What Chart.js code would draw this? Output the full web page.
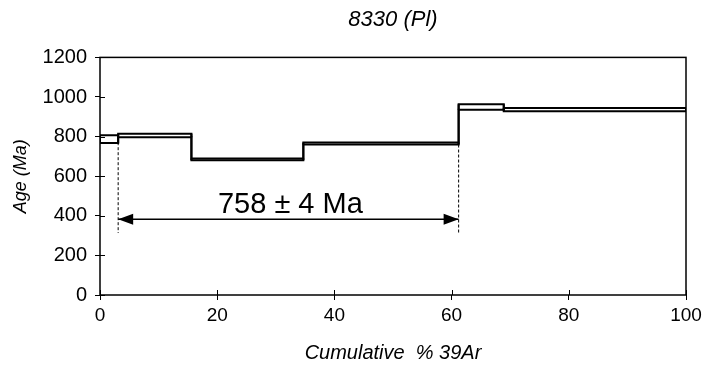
<!DOCTYPE html>
<html>
<head>
<meta charset="utf-8">
<script src="https://cdn.jsdelivr.net/npm/chart.js@4"></script>
<style>
  html, body { margin: 0; padding: 0; background: #fff; }
  #wrap { width: 708px; height: 365px; }
</style>
</head>
<body>
<div id="wrap"><canvas id="myChart" width="708" height="365"></canvas></div>
<script>
// age spectrum steps (cumulative % 39Ar vs age, Ma)
const stepStart = [0, 3.1, 15.6, 34.7, 61.2, 68.9]
const stepEnd = [3.1, 15.6, 34.7, 61.2, 68.9, 100]
const ageHigh = [807, 815, 690, 770, 963, 945]
const ageLow = [768, 797, 680, 760, 935, 928]

// plateau
const plateauFrom = 3.1
const plateauTo = 61.2
const plateauArrowAge = 383
const plateauDashBottom = 313
const plateauLabel = '758 ± 4 Ma'

const xTicks = [0, 20, 40, 60, 80, 100]
const yTicks = [0, 200, 400, 600, 800, 1000, 1200]

const FONT = "'Liberation Sans', Arial, sans-serif"

const last = stepStart.length - 1
// upper envelope (closed at both ends), lower envelope
let upper = [{ x: stepStart[0], y: ageLow[0] }]
let lower = []
for (let i = 0; i < stepStart.length; i++) {
  upper.push({ x: stepStart[i], y: ageHigh[i] })
  lower.push({ x: stepStart[i], y: ageLow[i] })
}
upper.push({ x: stepEnd[last], y: ageHigh[last] })
upper.push({ x: stepEnd[last], y: ageLow[last] })
lower.push({ x: stepEnd[last], y: ageLow[last] })

let datasets = [
  { data: upper, showLine: true, stepped: 'before', borderColor: 'black', borderWidth: 2, pointRadius: 0 },
  { data: lower, showLine: true, stepped: 'before', borderColor: 'black', borderWidth: 2, pointRadius: 0 }
]
// box edges at each step boundary
for (let i = 1; i < stepStart.length; i++) {
  datasets.push({
    data: [{ x: stepStart[i], y: ageLow[i] }, { x: stepStart[i], y: ageHigh[i] }],
    showLine: true, borderColor: 'black', borderWidth: 2, pointRadius: 0
  })
  datasets.push({
    data: [{ x: stepStart[i], y: ageLow[i - 1] }, { x: stepStart[i], y: ageHigh[i - 1] }],
    showLine: true, borderColor: 'black', borderWidth: 2, pointRadius: 0
  })
}
// dashed limits of the plateau
datasets.push({
  data: [{ x: plateauFrom, y: ageLow[1] }, { x: plateauFrom, y: plateauDashBottom }],
  showLine: true, borderColor: 'black', borderWidth: 1, borderDash: [3, 2], pointRadius: 0
})
datasets.push({
  data: [{ x: plateauTo, y: ageLow[3] }, { x: plateauTo, y: plateauDashBottom }],
  showLine: true, borderColor: 'black', borderWidth: 1, borderDash: [3, 2], pointRadius: 0
})
// arrow shaft
datasets.push({
  data: [{ x: plateauFrom, y: plateauArrowAge }, { x: plateauTo, y: plateauArrowAge }],
  showLine: true, borderColor: 'black', borderWidth: 1.5, pointRadius: 0
})

const extras = {
  id: 'extras',
  afterDraw(chart) {
    const ctx = chart.ctx
    const xs = chart.scales.x
    const ys = chart.scales.y
    const a = chart.chartArea
    ctx.save()
    ctx.strokeStyle = 'black'
    ctx.lineWidth = 1.5
    ctx.strokeRect(a.left, a.top, a.right - a.left, a.bottom - a.top)
    // inner halves of the crossing ticks
    ctx.lineWidth = 1
    ctx.beginPath()
    yTicks.forEach(v => {
      let py = Math.round(ys.getPixelForValue(v)) + 0.5
      ctx.moveTo(a.left, py); ctx.lineTo(a.left + 5, py)
    })
    xTicks.forEach(v => {
      let px = Math.round(xs.getPixelForValue(v)) + 0.5
      ctx.moveTo(px, a.bottom); ctx.lineTo(px, a.bottom - 5)
    })
    ctx.stroke()
    // arrow heads
    let py = ys.getPixelForValue(plateauArrowAge)
    let x1 = xs.getPixelForValue(plateauFrom)
    let x2 = xs.getPixelForValue(plateauTo)
    ctx.fillStyle = 'black'
    ctx.beginPath()
    ctx.moveTo(x1, py); ctx.lineTo(x1 + 15, py - 5.5); ctx.lineTo(x1 + 15, py + 5.5); ctx.closePath()
    ctx.moveTo(x2, py); ctx.lineTo(x2 - 15, py - 5.5); ctx.lineTo(x2 - 15, py + 5.5); ctx.closePath()
    ctx.fill()
    // plateau label
    ctx.font = '29px ' + FONT
    ctx.textAlign = 'center'
    ctx.textBaseline = 'alphabetic'
    ctx.fillText(plateauLabel, (x1 + x2) / 2 + 2, py - 6)
    ctx.restore()
  }
}

const ctx = document.getElementById('myChart')
const myChart = new Chart(ctx, {
  type: 'scatter',
  data: { datasets: datasets },
  options: {
    responsive: false,
    animation: false,
    layout: { padding: { left: 0, right: 22, top: 0, bottom: 0 } },
    plugins: {
      legend: { display: false },
      tooltip: { enabled: false },
      title: {
        display: true,
        fullSize: false,
        text: '8330 (Pl)',
        color: 'black',
        font: { family: FONT, size: 22, style: 'italic', weight: 'normal' },
        padding: { top: 7, bottom: 24 }
      }
    },
    scales: {
      x: {
        type: 'linear',
        min: 0,
        max: 100,
        afterBuildTicks: (s) => { s.ticks = xTicks.map(v => ({ value: v })) },
        afterFit: (s) => { s.height = 70 },
        grid: { drawOnChartArea: false, tickLength: 5, color: 'black' },
        border: { display: false },
        ticks: { color: 'black', padding: 4, maxRotation: 0, font: { family: FONT, size: 19 }, callback: (v) => v },
        title: {
          display: true,
          text: 'Cumulative  % 39Ar',
          color: 'black',
          font: { family: FONT, size: 20, style: 'italic' },
          padding: { top: 0, bottom: 0 }
        }
      },
      y: {
        type: 'linear',
        min: 0,
        max: 1200,
        afterBuildTicks: (s) => { s.ticks = yTicks.map(v => ({ value: v })) },
        afterFit: (s) => { s.width = 100 },
        grid: { drawOnChartArea: false, tickLength: 5, color: 'black' },
        border: { display: false },
        ticks: { color: 'black', padding: 8, font: { family: FONT, size: 20 }, callback: (v) => v },
        title: {
          display: true,
          text: 'Age (Ma)',
          color: 'black',
          font: { family: FONT, size: 18, style: 'italic' },
          padding: { top: 10, bottom: 0 }
        }
      }
    }
  },
  plugins: [extras]
})
</script>
</body>
</html>
